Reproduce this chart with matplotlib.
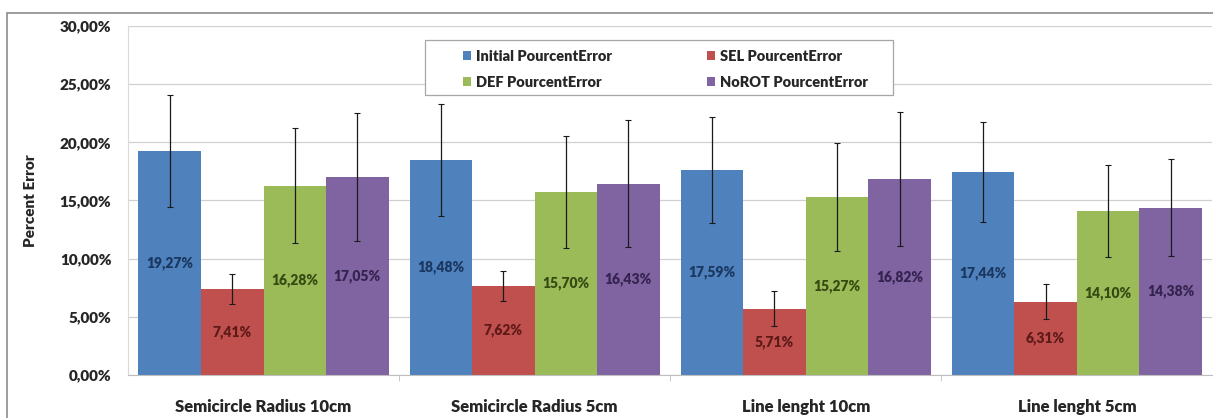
import matplotlib
matplotlib.use("Agg")
import matplotlib.pyplot as plt
import matplotlib.patches as patches
from matplotlib.ticker import FuncFormatter
import numpy as np

plt.rcParams['font.family'] = ['Lato', 'DejaVu Sans']

groups = ["Semicircle Radius 10cm", "Semicircle Radius 5cm", "Line lenght 10cm", "Line lenght 5cm"]
series = ["Initial PourcentError", "SEL PourcentError", "DEF PourcentError", "NoROT PourcentError"]
initial = [19.27, 18.48, 17.59, 17.44]
sel = [7.41, 7.62, 5.71, 6.31]
def_ = [16.28, 15.70, 15.27, 14.10]
norot = [17.05, 16.43, 16.82, 14.38]
initial_err = [4.8, 4.8, 4.55, 4.3]
sel_err = [1.3, 1.3, 1.5, 1.5]
def_err = [4.95, 4.8, 4.65, 3.95]
norot_err = [5.5, 5.45, 5.75, 4.15]

values = [initial, sel, def_, norot]
errors = [initial_err, sel_err, def_err, norot_err]
colors = ["#4F81BD", "#C0504D", "#9BBB59", "#8064A2"]
label_colors = ["#1A3760", "#5E1A18", "#364A12", "#35234F"]

fig = plt.figure(figsize=(12.13, 4.18), dpi=100)
ax = fig.add_axes([0.1055, 0.103, 0.894, 0.835])

# chart frame
fig.add_artist(patches.Rectangle((7/1213, -0.01), 1.0, 1 - 13/418 + 0.01,
                                 transform=fig.transFigure, fill=False,
                                 edgecolor="#8c8c8c", linewidth=1.2))

x = np.arange(len(groups))
w = 0.2306
bars = []
for i in range(4):
    pos = x + (i - 1.5) * w
    b = ax.bar(pos, values[i], w, color=colors[i], label=series[i], zorder=2)
    bars.append(b)
    ax.errorbar(pos, values[i], yerr=errors[i], fmt="none", ecolor="#1a1a1a",
                elinewidth=0.9, capsize=2, capthick=0.8, zorder=3)
    for p, v in zip(pos, values[i]):
        ax.text(p, v / 2, ("%.2f%%" % v).replace(".", ","), ha="center", va="center",
                fontsize=10, fontweight="heavy", color=label_colors[i], zorder=4)

ax.set_xlim(-0.5, 3.5)
ax.set_ylim(0, 30)
ax.set_yticks(np.arange(0, 31, 5))
ax.yaxis.set_major_formatter(FuncFormatter(lambda v, _: ("%.2f%%" % v).replace(".", ",")))
ax.set_xticks(x)
ax.set_xticklabels(groups, fontsize=12, fontweight="heavy", color="#262626")
ax.set_xticks([0.5, 1.5, 2.5], minor=True)
ax.tick_params(axis="x", which="major", length=0, pad=17)
ax.tick_params(axis="x", which="minor", length=4, color="#bfbfbf")
ax.tick_params(axis="y", length=0, pad=12, labelsize=11, labelcolor="#262626")
for t in ax.get_yticklabels():
    t.set_fontweight("heavy")
ax.grid(axis="y", color="#d0d0d0", linewidth=0.9, zorder=0)
ax.set_axisbelow(True)
for s in ["top", "right"]:
    ax.spines[s].set_visible(False)
ax.spines["left"].set_color("#d9d9d9")
ax.spines["bottom"].set_color("#bfbfbf")
ax.set_ylabel("Percent Error", fontsize=11, fontweight="heavy", color="#262626", labelpad=16)

# legend box
ax.add_patch(patches.Rectangle((425/1213, 1 - 95/418), 468/1213, 55/418,
                               transform=fig.transFigure, facecolor="white",
                               edgecolor="#a6a6a6", linewidth=0.9, zorder=5,
                               clip_on=False))
# legend rows: Initial / SEL, then DEF / NoROT
order = [0, 2, 1, 3]
leg = ax.legend([bars[k] for k in order], [series[k] for k in order], ncol=2,
                loc="upper left", bbox_to_anchor=(448/1213, 1 - 35/418),
                bbox_transform=fig.transFigure, frameon=False,
                prop={"size": 10.5, "weight": "heavy"}, handlelength=0.6, handleheight=0.6,
                handletextpad=0.3, columnspacing=6.5, borderpad=0.5, labelspacing=0.9)
leg.set_zorder(6)
for t in leg.get_texts():
    t.set_color("#262626")

fig.savefig("out.png", dpi=100)
